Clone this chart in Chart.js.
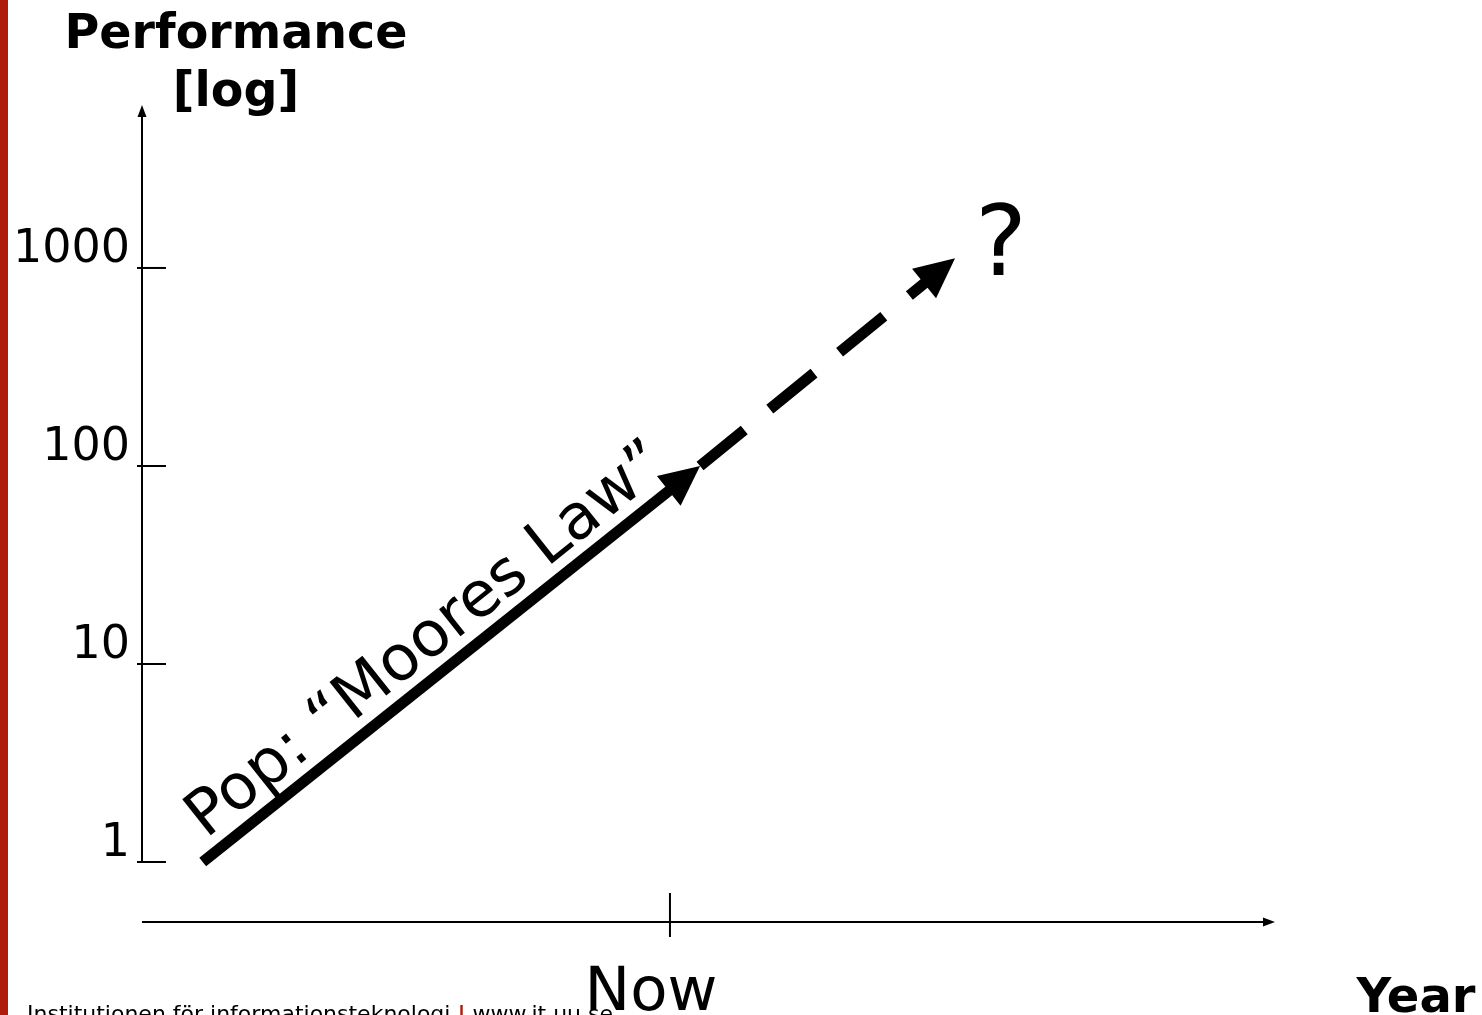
<!DOCTYPE html>
<html>
<head>
<meta charset="utf-8">
<title>Performance [log] vs Year</title>
<script src="https://cdn.jsdelivr.net/npm/chart.js@4/dist/chart.umd.min.js"></script>
<style>
  html, body { margin: 0; padding: 0; background: #fff; overflow: hidden; }
  #wrap { width: 1482px; height: 1015px; position: relative; }
</style>
</head>
<body>
<div id="wrap"><canvas id="chart" width="1482" height="1015"></canvas></div>
<script>
/* ─── Data ─────────────────────────────────────────────────────── */

const Y_TICKS = [1, 10, 100, 1000];
const Y_TICK_LABELS = ['1', '10', '100', '1000'];
const NOW_YEAR = 10;
const NOW_LABEL = 'Now';

// solid: popular "Moores Law" trend up to now
const TREND_YEARS = [1.15, 10.57];
const TREND_PERF = [1, 100];
// dashed: extrapolation into the future
const FORECAST_YEARS = [10.57, 15.4];
const FORECAST_PERF = [100, 1120];

const Y_TITLE = ['Performance', '[log]'];
const X_TITLE = 'Year';
const TREND_LABEL = 'Pop: \u201CMoores Law\u201D';
const FORECAST_LABEL = '?';
const FOOTER = ['Institutionen för informationsteknologi', '|', 'www.it.uu.se'];

/* ─── Styling ──────────────────────────────────────────────────── */

const FONT = "'DejaVu Sans', Verdana, sans-serif";
const INK = '#000';
const RED = '#ad1c0c';

const toPoints = (xs, ys) => xs.map((x, i) => ({ x, y: ys[i] }));

function arrowHead(ctx, tip, from, len, width) {
  const dx = tip.x - from.x, dy = tip.y - from.y;
  const d = Math.hypot(dx, dy);
  const ux = dx / d, uy = dy / d;
  const bx = tip.x - ux * len, by = tip.y - uy * len;
  ctx.beginPath();
  ctx.moveTo(tip.x, tip.y);
  ctx.lineTo(bx - uy * width / 2, by + ux * width / 2);
  ctx.lineTo(bx + uy * width / 2, by - ux * width / 2);
  ctx.closePath();
  ctx.fill();
}

const HEAD_LEN = 40, HEAD_W = 38;

// clip each line just behind its arrowhead, then draw the head
const arrowPlugin = {
  id: 'arrowHeads',
  beforeDatasetDraw(chart, args) {
    const pts = args.meta.data;
    const tip = pts[pts.length - 1], prev = pts[pts.length - 2];
    const dx = tip.x - prev.x, dy = tip.y - prev.y;
    const d = Math.hypot(dx, dy);
    const ux = dx / d, uy = dy / d;
    const bx = tip.x - ux * (HEAD_LEN - 4), by = tip.y - uy * (HEAD_LEN - 4);
    const ctx = chart.ctx, F = 5000;
    ctx.save();
    ctx.beginPath();
    ctx.moveTo(bx - uy * F, by + ux * F);
    ctx.lineTo(bx + uy * F, by - ux * F);
    ctx.lineTo(bx + uy * F - ux * F, by - ux * F - uy * F);
    ctx.lineTo(bx - uy * F - ux * F, by + ux * F - uy * F);
    ctx.closePath();
    ctx.clip();
  },
  afterDatasetDraw(chart, args) {
    const ctx = chart.ctx;
    ctx.restore();
    const pts = args.meta.data;
    ctx.save();
    ctx.fillStyle = INK;
    arrowHead(ctx, pts[pts.length - 1], pts[pts.length - 2], HEAD_LEN, HEAD_W);
    ctx.restore();
  },
};

const decorPlugin = {
  id: 'slideDecor',
  afterDraw(chart) {
    const { ctx, chartArea: a, scales: { x, y } } = chart;
    ctx.save();

    // red slide border
    ctx.fillStyle = RED;
    ctx.fillRect(0, 0, 8, 1015);

    ctx.strokeStyle = INK;
    ctx.fillStyle = INK;
    ctx.lineWidth = 2;

    // y axis with arrow
    const yBottom = y.getPixelForValue(Y_TICKS[0]);
    ctx.beginPath();
    ctx.moveTo(a.left, yBottom + 1);
    ctx.lineTo(a.left, a.top + 8);
    ctx.stroke();
    arrowHead(ctx, { x: a.left, y: a.top }, { x: a.left, y: a.top + 20 }, 12, 9);

    // y tick marks
    Y_TICKS.forEach(v => {
      const py = y.getPixelForValue(v);
      ctx.beginPath();
      ctx.moveTo(a.left - 5, py);
      ctx.lineTo(a.left + 24, py);
      ctx.stroke();
    });

    // x axis with arrow
    ctx.beginPath();
    ctx.moveTo(a.left, a.bottom);
    ctx.lineTo(a.right - 8, a.bottom);
    ctx.stroke();
    arrowHead(ctx, { x: a.right, y: a.bottom }, { x: a.right - 20, y: a.bottom }, 12, 9);

    // "Now" tick
    const nowPx = x.getPixelForValue(NOW_YEAR);
    ctx.beginPath();
    ctx.moveTo(nowPx, a.bottom - 29);
    ctx.lineTo(nowPx, a.bottom + 15);
    ctx.stroke();

    // axis titles
    ctx.textAlign = 'center';
    ctx.textBaseline = 'alphabetic';
    ctx.font = `bold 47.5px ${FONT}`;
    ctx.fillText(Y_TITLE[0], 236, 48);
    ctx.fillText(Y_TITLE[1], 236, 106);
    ctx.font = `bold 48px ${FONT}`;
    ctx.fillText(X_TITLE, 1416, 1012);

    ctx.font = `61px ${FONT}`;
    ctx.fillText(NOW_LABEL, nowPx - 19, 1010);

    // rotated trend label
    const tm = chart.getDatasetMeta(0).data;
    const p0 = tm[0], p1 = tm[tm.length - 1];
    const ang = Math.atan2(p1.y - p0.y, p1.x - p0.x);
    const ux = Math.cos(ang), uy = Math.sin(ang);
    const nx = -uy, ny = ux;
    ctx.save();
    ctx.translate(p0.x + ux * 17 - nx * 16, p0.y + uy * 17 - ny * 16);
    ctx.rotate(ang);
    ctx.textAlign = 'left';
    ctx.font = `63px ${FONT}`;
    ctx.fillText(TREND_LABEL, 0, 0);
    ctx.restore();

    // question mark at the forecast tip
    const fm = chart.getDatasetMeta(1).data;
    const ft = fm[fm.length - 1];
    ctx.textAlign = 'left';
    ctx.font = `98px ${FONT}`;
    ctx.fillText(FORECAST_LABEL, ft.x + 20, ft.y + 17);

    // footer
    ctx.font = `22px ${FONT}`;
    let fx = 27;
    const fy = 1021;
    ctx.fillText(FOOTER[0] + ' ', fx, fy);
    fx += ctx.measureText(FOOTER[0] + ' ').width;
    ctx.fillStyle = RED;
    ctx.font = `bold 22px ${FONT}`;
    ctx.fillText(FOOTER[1], fx, fy);
    fx += ctx.measureText(FOOTER[1]).width;
    ctx.fillStyle = INK;
    ctx.font = `22px ${FONT}`;
    ctx.fillText(' ' + FOOTER[2], fx, fy);

    ctx.restore();
  },
};

/* ─── Chart ────────────────────────────────────────────────────── */

new Chart(document.getElementById('chart'), {
  type: 'line',
  data: {
    datasets: [
      {
        label: 'Moores Law',
        data: toPoints(TREND_YEARS, TREND_PERF),
        borderColor: INK, borderWidth: 11, borderCapStyle: 'butt',
        pointRadius: 0, tension: 0, fill: false,
      },
      {
        label: 'Forecast',
        data: toPoints(FORECAST_YEARS, FORECAST_PERF),
        borderColor: INK, borderWidth: 11, borderCapStyle: 'butt',
        borderDash: [57, 33],
        pointRadius: 0, tension: 0, fill: false,
      },
    ],
  },
  options: {
    responsive: false, animation: false,
    devicePixelRatio: 1,
    layout: { padding: { left: 0, right: 207, top: 105, bottom: 93 } },
    plugins: { legend: { display: false }, tooltip: { enabled: false } },
    scales: {
      x: { type: 'linear', min: 0, max: 21.46, display: false },
      y: {
        type: 'logarithmic', min: 0.4977, max: 6653, bounds: 'data',
        grid: { display: false, drawTicks: false },
        border: { display: false },
        afterBuildTicks: s => { s.ticks = Y_TICKS.map(v => ({ value: v })); },
        afterFit: s => { s.width = 142; },
        ticks: {
          color: INK, padding: 12, labelOffset: -18,
          font: { family: FONT, size: 46 },
          callback: v => Y_TICK_LABELS[Y_TICKS.indexOf(v)],
        },
      },
    },
  },
  plugins: [arrowPlugin, decorPlugin],
});
</script>
</body>
</html>
